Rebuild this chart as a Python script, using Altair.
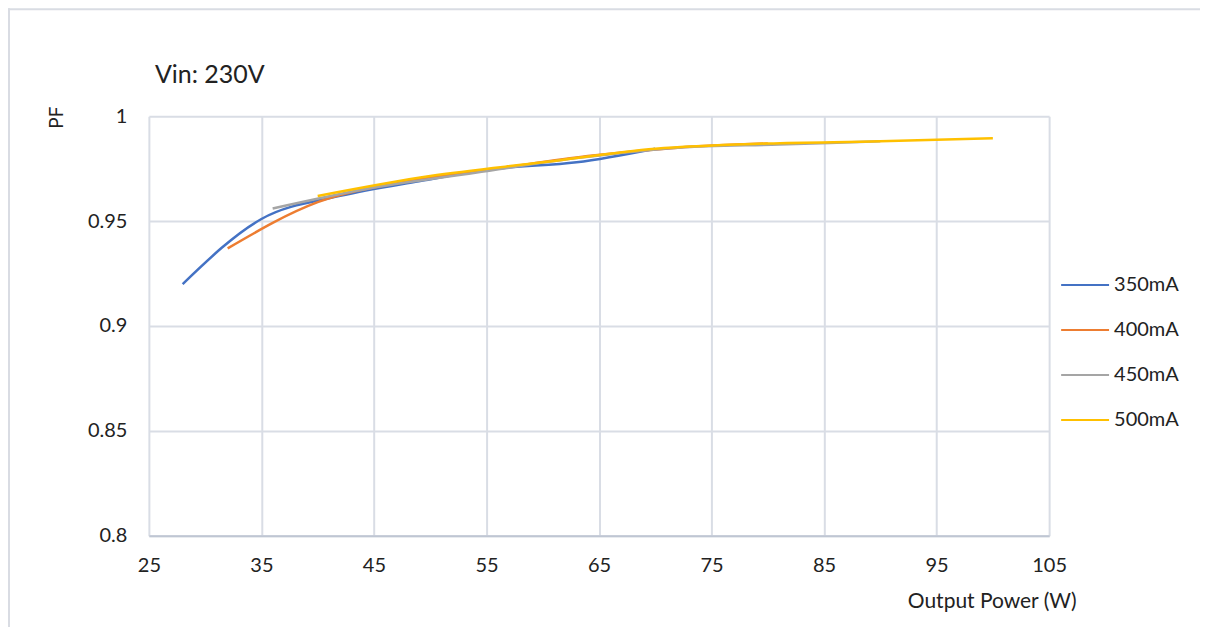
import altair as alt
import pandas as pd

series = ["350mA", "400mA", "450mA", "500mA"]
p350 = [28, 35, 42, 49, 56, 63, 70]
pf350 = [0.920, 0.951, 0.962, 0.969, 0.975, 0.978, 0.9845]
p400 = [32, 40, 48, 56, 64, 72, 80]
pf400 = [0.937, 0.959, 0.969, 0.975, 0.981, 0.985, 0.987]
p450 = [36, 45, 54, 63, 72, 81, 90]
pf450 = [0.956, 0.966, 0.973, 0.980, 0.985, 0.9865, 0.988]
p500 = [40, 50, 60, 70, 80, 90, 100]
pf500 = [0.962, 0.9715, 0.978, 0.9845, 0.987, 0.988, 0.9895]
colors = ["#4472C4", "#ED7D31", "#A5A5A5", "#FFC000"]
x_ticks = [25, 35, 45, 55, 65, 75, 85, 95, 105]
y_ticks = [0.8, 0.85, 0.9, 0.95, 1.0]
title_text = ["Vin: 230V"]

rows = []
for name, xs, ys in zip(series, [p350, p400, p450, p500], [pf350, pf400, pf450, pf500]):
    for i, (a, b) in enumerate(zip(xs, ys)):
        rows.append({"Current": name, "P": a, "PF": b, "i": i})
df = pd.DataFrame(rows)
tdf = pd.DataFrame({"t": title_text})

FONT = "Lato"
GRID = "#D9DDE5"

lines = alt.Chart(df).mark_line(strokeWidth=2.5, interpolate="monotone").encode(
    x=alt.X("P:Q", scale=alt.Scale(domain=[25, 105], nice=False, zero=False),
            axis=alt.Axis(values=x_ticks, title="Output Power (W)", grid=True,
                          gridColor=GRID, gridWidth=2, domainColor="#BFC6D3", domainWidth=2,
                          ticks=False, labelPadding=20, labelFontSize=20, labelColor="#222",
                          labelFlush=False,
                          titleFontSize=21, titleFontWeight="normal", titleColor="#222",
                          titleAnchor="end", titleAlign="right", titleX=928, titleY=72,
                          titleBaseline="alphabetic")),
    y=alt.Y("PF:Q", scale=alt.Scale(domain=[0.8, 1.0], nice=False, zero=False),
            axis=alt.Axis(values=y_ticks, format="~g", title="PF", grid=True,
                          gridColor=GRID, gridWidth=2, domain=False, ticks=False,
                          labelPadding=22, labelFontSize=20, labelColor="#222",
                          labelFlush=False,
                          titleFontSize=19, titleFontWeight="normal", titleColor="#222",
                          titleAngle=-90, titleX=-92, titleY=1, titleAlign="center",
                          titleBaseline="middle")),
    color=alt.Color("Current:N", scale=alt.Scale(domain=series, range=colors),
                    legend=alt.Legend(title=None, orient="none", legendX=912, legendY=144,
                                      symbolType="stroke", symbolSize=2300, symbolStrokeWidth=2,
                                      labelFontSize=20, labelColor="#222", labelOffset=4,
                                      rowPadding=10)),
    order="i:Q",
)

top_line = alt.Chart(tdf).mark_rule(stroke="#D9DCE3", strokeWidth=2).encode(
    x=alt.value(-141), x2=alt.value(1300), y=alt.value(-107)
)
left_line = alt.Chart(tdf).mark_rule(stroke="#D9DCE3", strokeWidth=2).encode(
    x=alt.value(-140), y=alt.value(-108), y2=alt.value(700)
)

title = alt.Chart(tdf).mark_text(align="left", baseline="alphabetic", fontSize=25,
                                  color="#222").encode(
    text="t:N", x=alt.value(6), y=alt.value(-33)
)

chart = alt.layer(top_line, left_line, lines, title).properties(
    width=901, height=420,
    autosize=alt.AutoSizeParams(type="none"),
    padding={"left": 141, "top": 108, "right": 151, "bottom": 91},
).configure(font=FONT).configure_view(stroke=None)

chart.save("out.html", embed_options={"renderer": "svg", "actions": False})
